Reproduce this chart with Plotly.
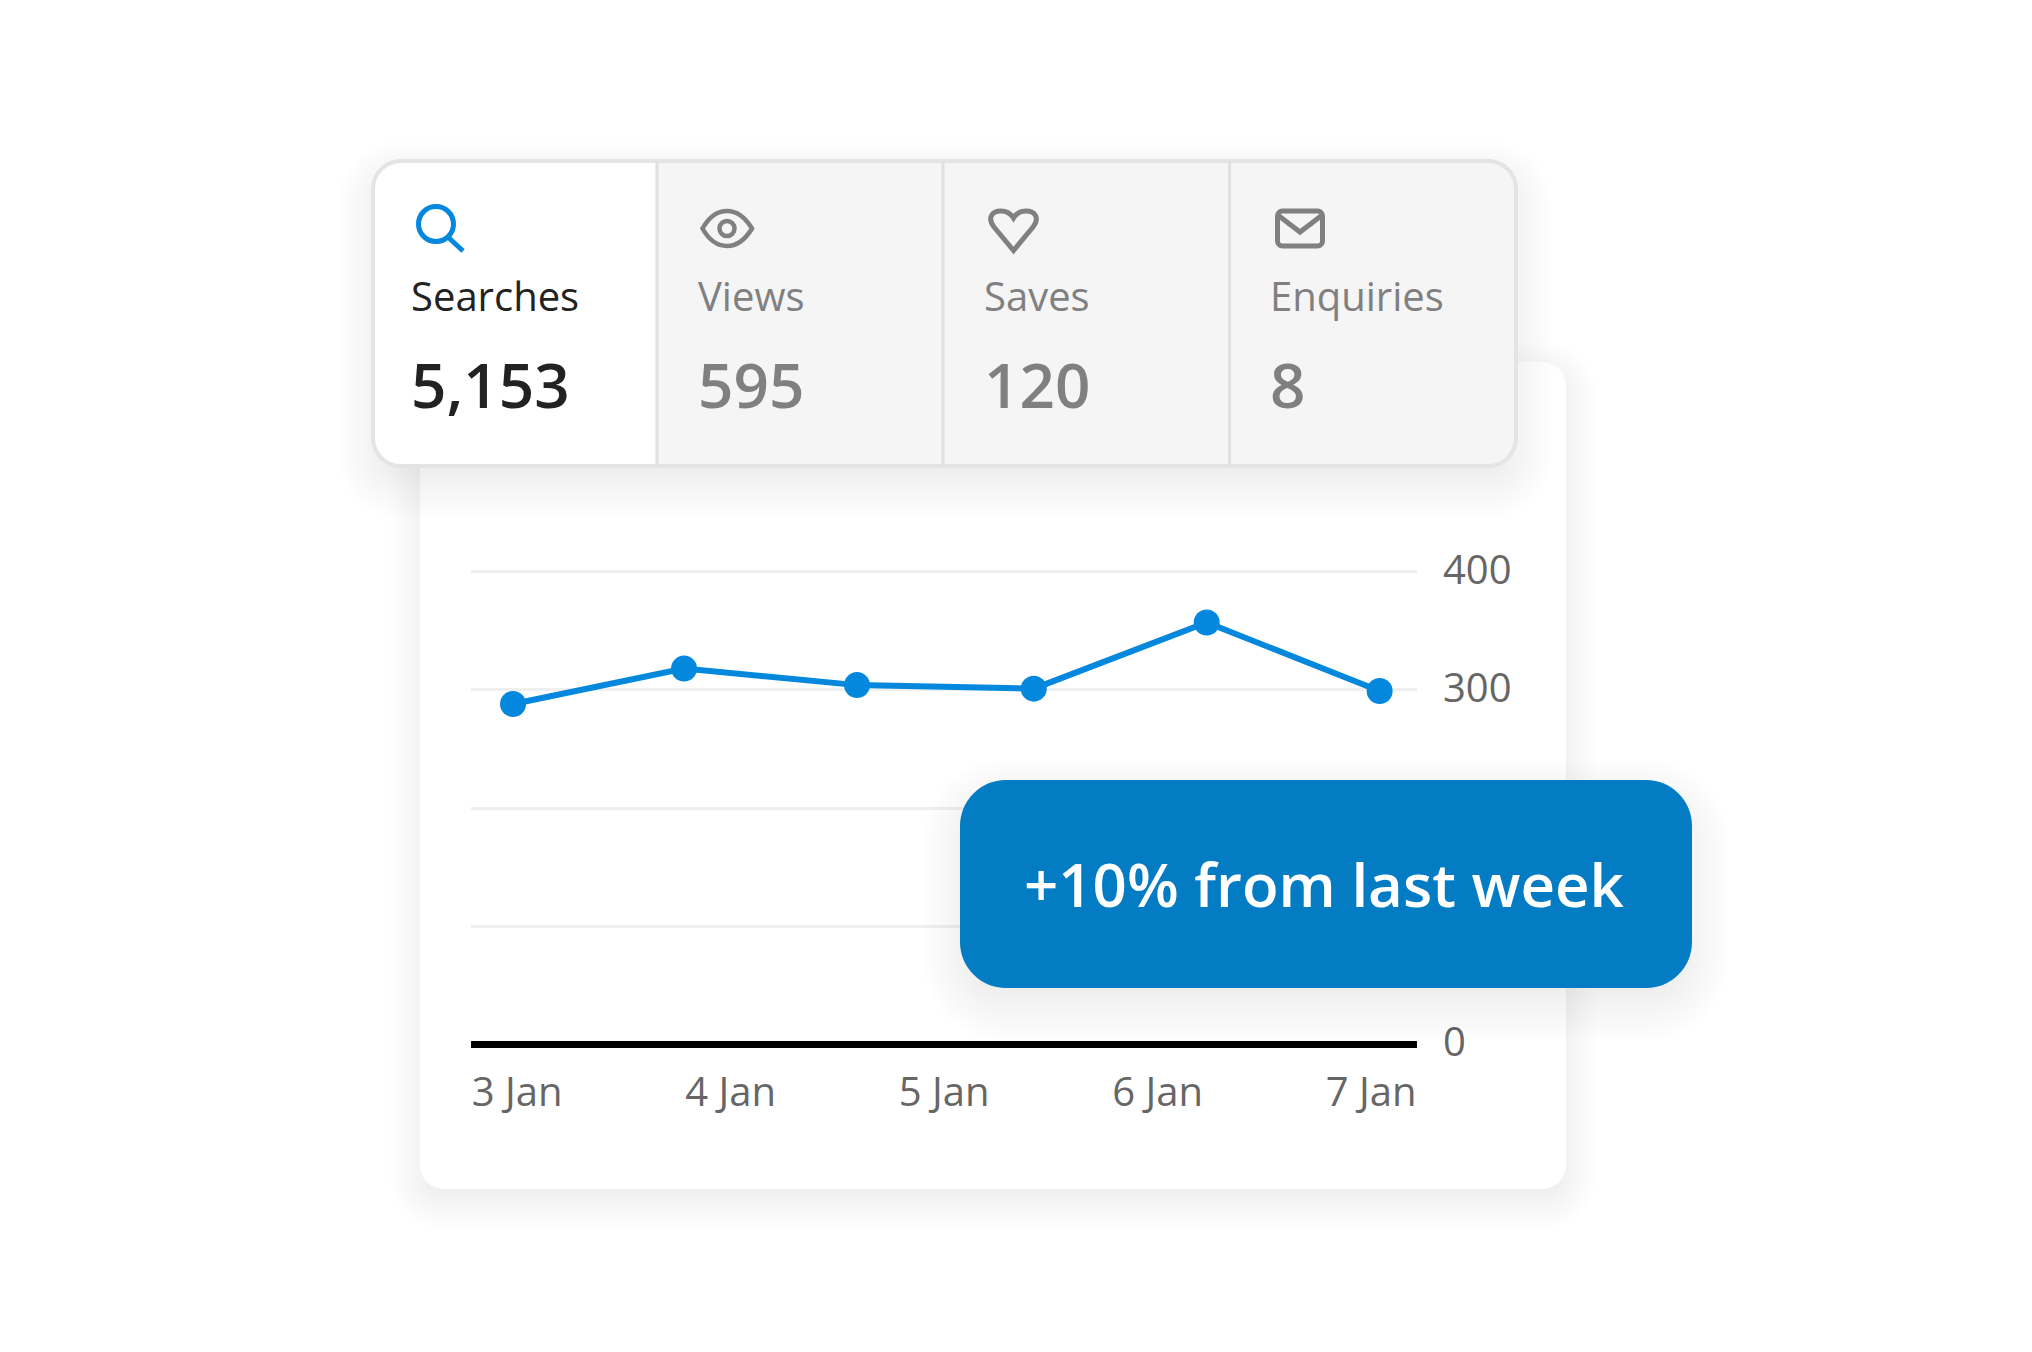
import plotly.graph_objects as go

W, H = 2032, 1352
FONT = "Open Sans"

# ---- data ----
day_ticks = [0, 1, 2, 3, 4]
day_labels = ["3 Jan", "4 Jan", "5 Jan", "6 Jan", "7 Jan"]
value_ticks = [0, 100, 200, 300, 400]
value_labels = ["0", "", "", "300", "400"]
point_days = [-0.019, 0.782, 1.592, 2.42, 3.23, 4.04]
point_values = [288, 318, 304, 301, 357, 299]
tile_names = ["Searches", "Views", "Saves", "Enquiries"]
tile_values = ["5,153", "595", "120", "8"]
badge_text = "+10% from last week"

BLUE = "#0388de"
GREY = "#808080"


def px(x):
    return x / W


def py(y):
    return 1 - y / H


def P(x, y):
    return f"{px(x):.6f} {py(y):.6f}"


def rrect(x0, y0, x1, y1, r):
    rl, rr = r if isinstance(r, tuple) else (r, r)
    k = 0.4477
    d = "M" + P(x0 + rl, y0) + " L" + P(x1 - rr, y0)
    if rr:
        d += " C" + P(x1 - rr * k, y0) + " " + P(x1, y0 + rr * k) + " " + P(x1, y0 + rr)
    d += " L" + P(x1, y1 - rr)
    if rr:
        d += " C" + P(x1, y1 - rr * k) + " " + P(x1 - rr * k, y1) + " " + P(x1 - rr, y1)
    d += " L" + P(x0 + rl, y1)
    if rl:
        d += " C" + P(x0 + rl * k, y1) + " " + P(x0, y1 - rl * k) + " " + P(x0, y1 - rl)
    d += " L" + P(x0, y0 + rl)
    if rl:
        d += " C" + P(x0, y0 + rl * k) + " " + P(x0 + rl * k, y0) + " " + P(x0 + rl, y0)
    return d + " Z"


shapes = []


def fill(path, color, layer="below"):
    shapes.append(dict(type="path", xref="paper", yref="paper", path=path, fillcolor=color,
                       line=dict(width=0), layer=layer))


def stroke(path, color, w, layer="above", fillcolor="rgba(0,0,0,0)"):
    shapes.append(dict(type="path", xref="paper", yref="paper", path=path, fillcolor=fillcolor,
                       line=dict(color=color, width=w), layer=layer))


def shadow(x0, y0, x1, y1, r, dy, spread, layer="below", n=18, a=0.005):
    for i in range(n):
        d = spread * (1 - i / (n - 1)) - spread * 0.3
        fill(rrect(x0 - d, y0 - d + dy, x1 + d, y1 + d + dy, max(r + d, 2)),
             f"rgba(0,0,0,{a})", layer)


# chart card
shadow(420, 362, 1566, 1189, 24, 10, 44, a=0.004)
fill(rrect(420, 362, 1566, 1189, 24), "#ffffff")

# tile strip
TX0, TY0, TX1, TY1 = 373, 161, 1516, 466
shadow(TX0, TY0, TX1, TY1, 28, 16, 52, a=0.0045)
fill(rrect(TX0, TY0, TX1, TY1, 28), "#f5f5f5")
fill(rrect(TX0, TY0, 657, TY1, (28, 0)), "#ffffff")
stroke(rrect(TX0, TY0, TX1, TY1, 28), "#e4e4e4", 4, layer="below")
for xd in (657, 943, 1229.5):
    shapes.append(dict(type="line", xref="paper", yref="paper", x0=px(xd), x1=px(xd),
                       y0=py(TY0), y1=py(TY1), line=dict(color="#e0e0e0", width=3), layer="below"))


def circle(cx, cy, r):
    k = 0.5523 * r
    return ("M" + P(cx + r, cy) + " C" + P(cx + r, cy + k) + " " + P(cx + k, cy + r) + " " + P(cx, cy + r)
            + " C" + P(cx - k, cy + r) + " " + P(cx - r, cy + k) + " " + P(cx - r, cy)
            + " C" + P(cx - r, cy - k) + " " + P(cx - k, cy - r) + " " + P(cx, cy - r)
            + " C" + P(cx + k, cy - r) + " " + P(cx + r, cy - k) + " " + P(cx + r, cy) + " Z")


# icons
stroke(circle(436, 224, 17.5), BLUE, 5)
stroke("M" + P(449, 238) + " L" + P(463, 251), BLUE, 5)
stroke("M" + P(702.5, 228.5) + " C" + P(709, 217) + " " + P(718, 211) + " " + P(727, 211)
       + " C" + P(736, 211) + " " + P(745, 217) + " " + P(752, 228.5)
       + " C" + P(745, 240) + " " + P(736, 246) + " " + P(727, 246)
       + " C" + P(718, 246) + " " + P(709, 240) + " " + P(702.5, 228.5) + " Z", GREY, 4.5)
stroke(circle(727, 228.5, 7.5), GREY, 4.5)
stroke("M" + P(1013.5, 250.5) + " L" + P(994, 227) + " C" + P(987, 218) + " " + P(992, 211) + " " + P(1001, 211)
       + " C" + P(1006, 211) + " " + P(1011, 214) + " " + P(1013.5, 218)
       + " C" + P(1016, 214) + " " + P(1021, 211) + " " + P(1026, 211)
       + " C" + P(1035, 211) + " " + P(1040, 218) + " " + P(1033, 227) + " Z", GREY, 5)
stroke(rrect(1277.5, 211, 1322.5, 246, 5), GREY, 5)
stroke("M" + P(1279, 216) + " L" + P(1300, 232) + " L" + P(1321, 216), GREY, 5)

# badge
shadow(960, 780, 1692, 988, 46, 16, 54, layer="above", a=0.005)
fill(rrect(960, 780, 1692, 988, 46), "#037cc3", "above")

annotations = []


def text(x, y, s, size, color, weight=400):
    annotations.append(dict(xref="paper", yref="paper", x=px(x), y=py(y), text=s, showarrow=False,
                            xanchor="left", yanchor="middle",
                            font=dict(family=FONT, size=size, color=color, weight=weight)))


tile_x = [409, 696, 982, 1268]
for i, (name, val, x) in enumerate(zip(tile_names, tile_values, tile_x)):
    c = "#222222" if i == 0 else GREY
    text(x, 295.5, name, 40, c)
    text(x, 384, val, 62, c, 600)
annotations.append(dict(xref="paper", yref="paper", x=px(1324.5), y=py(884), text=badge_text, showarrow=False,
                        xanchor="center", yanchor="middle",
                        font=dict(family=FONT, size=60, color="#ffffff", weight=600)))

fig = go.Figure(go.Scatter(x=point_days, y=point_values, mode="lines+markers",
                           line=dict(color=BLUE, width=6), marker=dict(color=BLUE, size=26),
                           cliponaxis=False, hoverinfo="skip"))

fig.update_layout(
    width=W, height=H, autosize=False, margin=dict(l=0, r=0, t=0, b=0),
    paper_bgcolor="#ffffff", plot_bgcolor="rgba(0,0,0,0)", showlegend=False,
    shapes=shapes, annotations=annotations,
    xaxis=dict(domain=[px(471), px(1417)], range=[-0.2158, 4.215], tickmode="array", automargin=False,
               tickvals=day_ticks, ticktext=day_labels, showgrid=False, zeroline=False, showline=False,
               ticks="outside", ticklen=13, tickcolor="rgba(0,0,0,0)",
               tickfont=dict(family=FONT, size=40, color="#666666")),
    yaxis=dict(domain=[py(1044.3), py(1044.3 - 420 * 1.1815)], range=[0, 420], side="right", tickmode="array",
               automargin=False, tickvals=value_ticks, ticktext=value_labels, showgrid=True,
               gridcolor="#efefef", gridwidth=3,
               zeroline=True, zerolinecolor="#000000", zerolinewidth=7, showline=False,
               ticks="outside", ticklen=17, tickcolor="rgba(0,0,0,0)", ticklabelshift=-2,
               tickfont=dict(family=FONT, size=40, color="#666666")),
)

fig.write_html("out.html", post_script="document.body.style.margin='0';",
               config=dict(displayModeBar=False))
